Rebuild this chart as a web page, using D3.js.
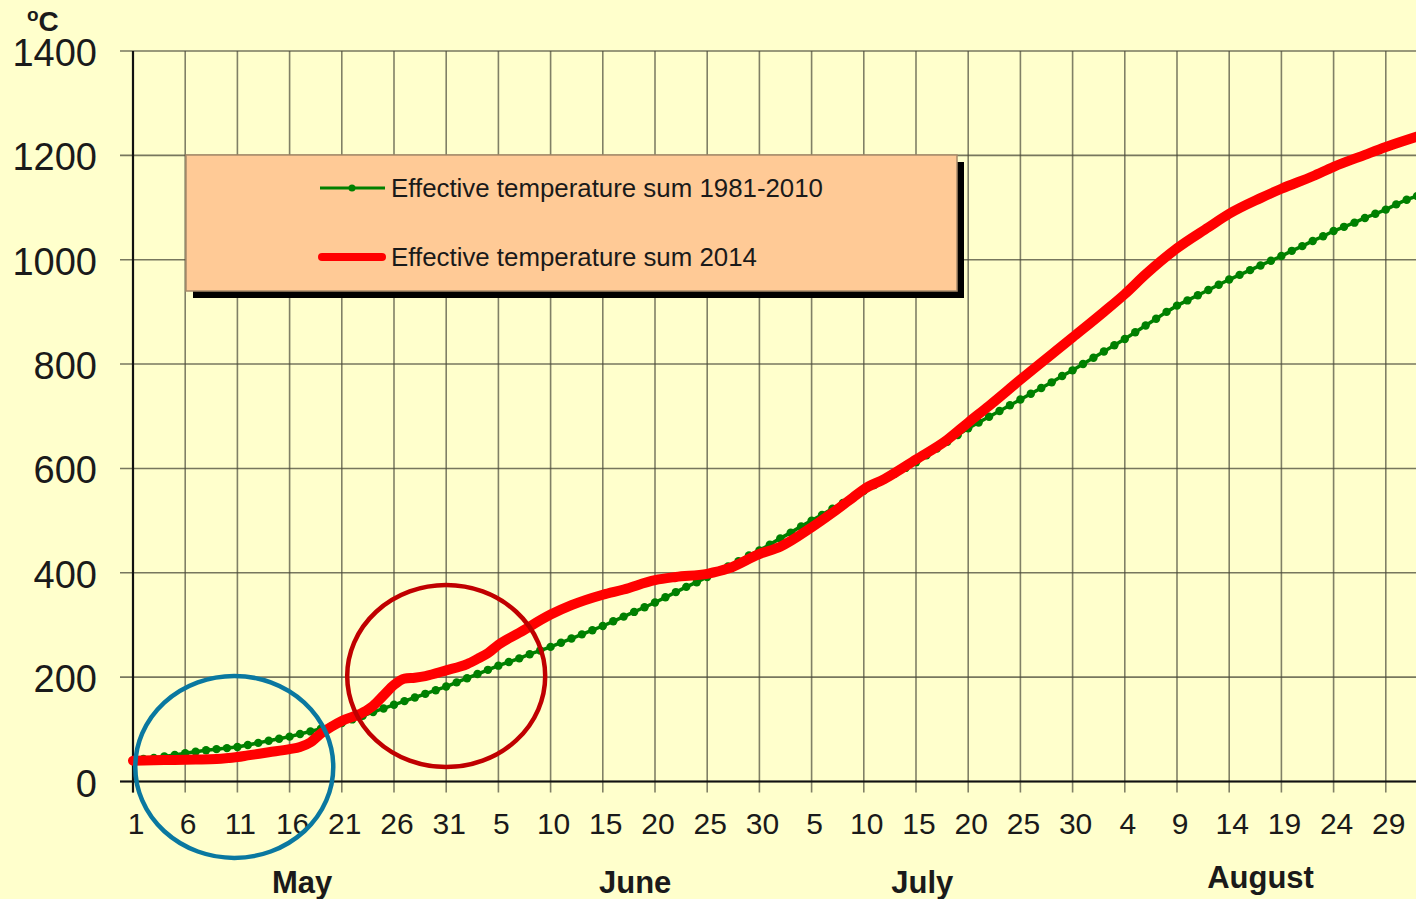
<!DOCTYPE html>
<html>
<head>
<meta charset="utf-8">
<script src="https://cdn.jsdelivr.net/npm/d3@7"></script>
<style>
  html, body { margin: 0; padding: 0; background: #ffffcc; }
  svg { display: block; }
  text { font-family: "Liberation Sans", Arial, sans-serif; fill: #1a1a1a; }
</style>
</head>
<body>
<svg width="1416" height="899"></svg>
<script>
// day 0 = 1 May, daily values (°C)
var normalSum = [
  40, 43, 45, 48, 51, 54,
  57, 60, 62, 64, 66,
  70, 74, 78, 82, 86,
  91, 96, 101, 106, 112,
  119, 126, 133, 140, 147,
  154, 161, 168, 175, 182,
  190, 198, 206, 214, 222,
  229, 236, 244, 251, 258,
  266, 274, 282, 290, 298,
  307, 316, 325, 334, 343,
  353, 363, 373, 382, 392,
  402, 412, 422, 433, 443,
  454, 466, 477, 489, 500,
  511, 523, 534, 546, 557,
  568, 579, 590, 601, 612,
  625, 638, 651, 664, 677,
  688, 699, 710, 721, 732,
  743, 754, 765, 777, 788,
  800, 812, 824, 836, 848,
  861, 874, 887, 900, 912,
  922, 932, 942, 952, 962,
  971, 980, 989, 998, 1007,
  1017, 1026, 1036, 1045, 1055,
  1063, 1071, 1080, 1088, 1096,
  1106, 1115, 1122
];

var sum2014Days = [0, 3, 6, 8, 10, 11, 13, 15, 16, 17, 18, 19, 20, 22, 23, 24, 25, 26, 27, 28, 30, 32, 33, 34, 35, 37, 40, 42, 45, 47, 50, 52, 55, 57, 60, 62, 65, 67, 69, 70, 72, 75, 78, 80, 82, 85, 90, 93, 95, 97, 100, 103, 105, 108, 110, 113, 115, 118, 120, 123];
var sum2014 =     [40, 41, 42, 43, 47, 50, 56, 62, 66, 75, 92, 105, 116, 132, 145, 165, 185, 197, 199, 202, 213, 225, 235, 246, 262, 285, 320, 338, 358, 368, 386, 392, 398, 408, 436, 450, 487, 515, 545, 560, 580, 617, 655, 688, 720, 770, 851, 900, 934, 972, 1022, 1062, 1088, 1118, 1136, 1160, 1178, 1201, 1216, 1236];

var tickDays = d3.range(0, 121, 5);
var tickLabels = ["1", "6", "11", "16", "21", "26", "31", "5", "10", "15", "20", "25", "30", "5", "10", "15", "20", "25", "30", "4", "9", "14", "19", "24", "29"];
var yTicks = [0, 200, 400, 600, 800, 1000, 1200, 1400];

var monthNames = ["May", "June", "July", "August"];
var monthCenters = [16.2, 48.1, 75.6, 108];

var seriesNames = ["Effective temperature sum 1981-2010", "Effective temperature sum 2014"];

var svg = d3.select("svg");

var x = d3.scaleLinear().domain([0, 125]).range([133, 133 + 125 * 10.44]);
var y = d3.scaleLinear().domain([0, 1400]).range([781.5, 51]);

// grid
var grid = svg.append("g");
grid.selectAll(".hgrid")
  .data(yTicks)
  .enter().append("line")
    .attr("x1", 120).attr("x2", 1416)
    .attr("y1", function(d) { return y(d); })
    .attr("y2", function(d) { return y(d); })
    .attr("stroke", "#4a4a3a").attr("stroke-opacity", 0.75).attr("stroke-width", 1.6);

grid.selectAll(".vgrid")
  .data(tickDays.concat([125]))
  .enter().append("line")
    .attr("x1", function(d) { return x(d); })
    .attr("x2", function(d) { return x(d); })
    .attr("y1", y(1400)).attr("y2", y(0) + 11)
    .attr("stroke", "#4a4a3a").attr("stroke-opacity", 0.7).attr("stroke-width", 1.6);

// axes lines
svg.append("line")
  .attr("x1", x(0)).attr("x2", x(0))
  .attr("y1", y(1400)).attr("y2", y(0) + 11)
  .attr("stroke", "#111").attr("stroke-width", 2.2);
svg.append("line")
  .attr("x1", 120).attr("x2", 1416)
  .attr("y1", y(0)).attr("y2", y(0))
  .attr("stroke", "#111").attr("stroke-width", 2.2);

// y labels
svg.selectAll(".ylab")
  .data(yTicks)
  .enter().append("text")
    .attr("x", 97)
    .attr("y", function(d) { return y(d) + 15; })
    .attr("text-anchor", "end")
    .style("font-size", "38px")
    .text(function(d) { return d; });

// unit
var unit = svg.append("text").attr("x", 27).attr("y", 31).style("font-weight", "bold");
unit.append("tspan").attr("dy", -10).style("font-size", "19px").text("o");
unit.append("tspan").attr("dy", 10).style("font-size", "28px").text("C");

// x labels
svg.selectAll(".xlab")
  .data(tickDays)
  .enter().append("text")
    .attr("x", function(d) { return x(d) + 3; })
    .attr("y", 834)
    .attr("text-anchor", "middle")
    .style("font-size", "30px")
    .text(function(d, i) { return tickLabels[i]; });

svg.selectAll(".month")
  .data(monthNames)
  .enter().append("text")
    .attr("x", function(d, i) { return x(monthCenters[i]); })
    .attr("y", function(d, i) { return i === 3 ? 888 : 893; })
    .attr("text-anchor", "middle")
    .style("font-size", "31px")
    .style("font-weight", "bold")
    .text(function(d) { return d; });

// normal series: green line with daily dots
var line = d3.line()
  .x(function(d) { return x(d[0]); })
  .y(function(d) { return y(d[1]); });

var normalPts = normalSum.map(function(v, i) { return [i, v]; });
svg.append("path")
  .datum(normalPts)
  .attr("d", line)
  .attr("fill", "none")
  .attr("stroke", "#008000")
  .attr("stroke-width", 3.5);
svg.selectAll(".dot")
  .data(normalPts)
  .enter().append("circle")
    .attr("cx", function(d) { return x(d[0]); })
    .attr("cy", function(d) { return y(d[1]); })
    .attr("r", 4.2)
    .attr("fill", "#008000");

// 2014 series
var pts2014 = sum2014.map(function(v, i) { return [sum2014Days[i], v]; });
svg.append("path")
  .datum(pts2014)
  .attr("d", line.curve(d3.curveMonotoneX))
  .attr("fill", "none")
  .attr("stroke", "#ff0000")
  .attr("stroke-width", 10)
  .attr("stroke-linejoin", "round")
  .attr("stroke-linecap", "round");

// legend
var lg = svg.append("g");
lg.append("rect")
  .attr("x", 193).attr("y", 162).attr("width", 771).attr("height", 136)
  .attr("fill", "#000");
lg.append("rect")
  .attr("x", 186).attr("y", 155).attr("width", 771).attr("height", 136)
  .attr("fill", "#ffca96").attr("stroke", "#a88a6a").attr("stroke-width", 1.5);

lg.append("line")
  .attr("x1", 320).attr("x2", 385).attr("y1", 188).attr("y2", 188)
  .attr("stroke", "#008000").attr("stroke-width", 3);
lg.append("circle").attr("cx", 352).attr("cy", 188).attr("r", 3.5).attr("fill", "#008000");
lg.append("line")
  .attr("x1", 322).attr("x2", 382).attr("y1", 257).attr("y2", 257)
  .attr("stroke", "#ff0000").attr("stroke-width", 8).attr("stroke-linecap", "round");

lg.selectAll(".ltext")
  .data(seriesNames)
  .enter().append("text")
    .attr("x", 391)
    .attr("y", function(d, i) { return i === 0 ? 197 : 266; })
    .attr("textLength", function(d, i) { return i === 0 ? 432 : 366; })
    .attr("lengthAdjust", "spacingAndGlyphs")
    .style("font-family", "'Liberation Sans Narrow', 'Arial Narrow', 'Liberation Sans', sans-serif")
    .style("font-size", "26px")
    .text(function(d) { return d; });

// annotation ellipses
svg.append("ellipse")
  .attr("cx", x(9.7)).attr("cy", y(28)).attr("rx", 99).attr("ry", 91)
  .attr("fill", "none").attr("stroke", "#0a78a0").attr("stroke-width", 4.5);
svg.append("ellipse")
  .attr("cx", x(30)).attr("cy", y(202)).attr("rx", 99).attr("ry", 91)
  .attr("fill", "none").attr("stroke", "#c00000").attr("stroke-width", 4.5);
</script>
</body>
</html>
